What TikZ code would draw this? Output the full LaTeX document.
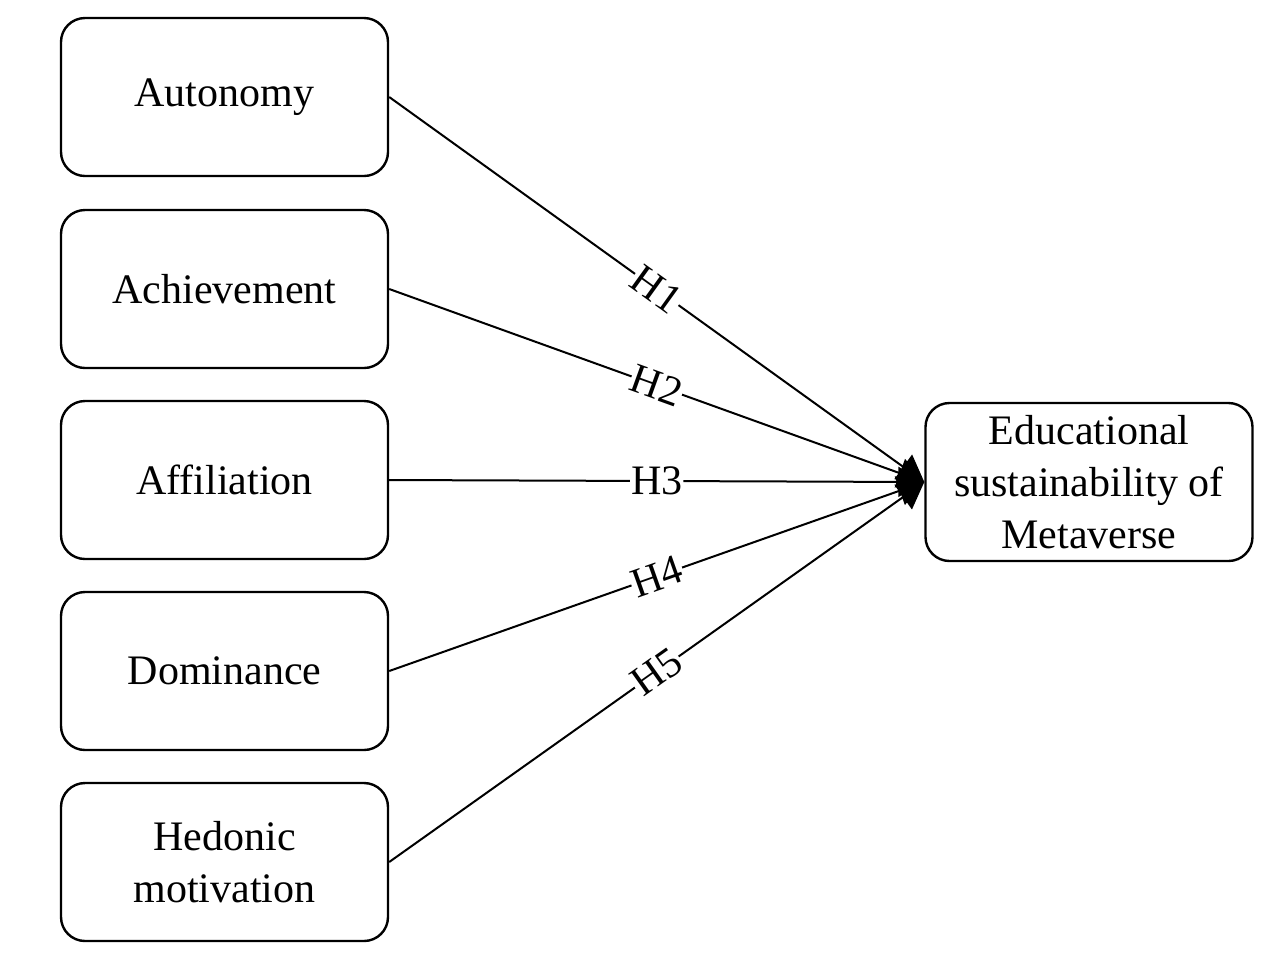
\documentclass[tikz,border=0pt]{standalone}
\usepackage{fontspec}
\setmainfont{Liberation Serif}
\usetikzlibrary{arrows.meta,positioning}
\tikzset{
  factor/.style={draw=black,line width=1.2pt,rounded corners=12pt,minimum width=163.5pt,minimum height=79pt,align=center,font=\fontsize{21}{26}\selectfont,inner sep=2pt},
  hyp/.style={fill=white,font=\fontsize{21}{26}\selectfont,inner sep=0.5pt,sloped}
}
\begin{document}
\begin{tikzpicture}[x=0.5pt,y=-0.5pt,>={Triangle[length=13pt,width=15pt]}]
\useasboundingbox (0,0) rectangle (1279,971);
\node[factor] (auto) at (224.5,97) {Autonomy};
\node[factor] (achi) at (224.5,289) {Achievement};
\node[factor] (affi) at (224.5,480) {Affiliation};
\node[factor] (domi) at (224.5,671) {Dominance};
\node[factor] (hedo) at (224.5,862) {Hedonic\\motivation};
\node[factor] (edu) at (1089,482) {Educational\\sustainability of\\Metaverse};
\draw[->,line width=1pt] (auto.east)--node[hyp]{H1}(edu.west);
\draw[->,line width=1pt] (achi.east)--node[hyp]{H2}(edu.west);
\draw[->,line width=1pt] (affi.east)--node[hyp]{H3}(edu.west);
\draw[->,line width=1pt] (domi.east)--node[hyp]{H4}(edu.west);
\draw[->,line width=1pt] (hedo.east)--node[hyp]{H5}(edu.west);
\end{tikzpicture}
\end{document}
